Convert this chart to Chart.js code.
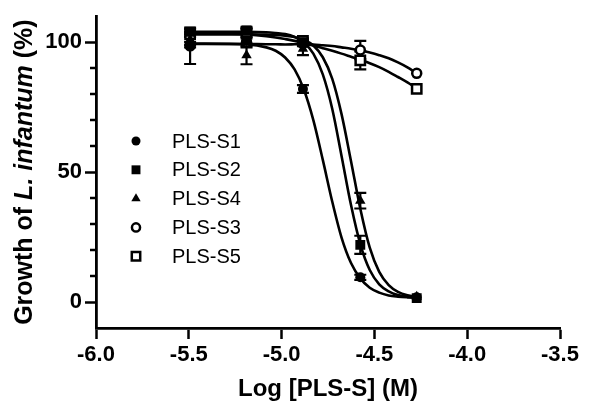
<!DOCTYPE html>
<html><head><meta charset="utf-8">
<script src="https://cdn.jsdelivr.net/npm/chart.js@4.4.1/dist/chart.umd.min.js"></script>
<style>html,body{margin:0;padding:0;background:#fff;}#wrap{width:591px;height:404px;position:relative;}</style>
</head><body><div id="wrap"><canvas id="c" width="591" height="404"></canvas></div>
<script>
const seriesNames = ['PLS-S1', 'PLS-S2', 'PLS-S4', 'PLS-S3', 'PLS-S5'];
const logConc = [-5.493, -5.189, -4.885, -4.576, -4.272];
const valS1 = [99, 100.5, 82, 9.5, 1.8];
const valS2 = [104, 104.5, 100, 22, 1.5];
const valS4 = [101, 95, 97.5, 39, 2];
const valS3 = [98.6, 100, 99.5, 97, 88];
const valS5 = [103, 104, 100.5, 93, 82];
const errS1 = [1, 1, 1.5, 1, 0.5];
const errS2 = [1, 1, 1, 3.5, 0.5];
const errS4 = [2, 3.5, 2.5, 3, 0.5];
const errS3 = [7, 2, 1, 3.5, 0.5];
const errS5 = [1, 1, 1, 3.5, 0.5];

const curveX  = [-5.493, -5.184, -5.082, -5.032, -4.981, -4.930, -4.880, -4.829, -4.778, -4.727, -4.677, -4.626, -4.575, -4.525, -4.474, -4.423, -4.373, -4.322, -4.272];
const curveS1 = [99.5, 99.1, 98.0, 96.7, 94.1, 89.5, 81.8, 70.0, 54.7, 38.6, 24.8, 15.0, 9.0, 5.5, 3.6, 2.5, 2.05, 1.8, 1.65];
const curveS2 = [104, 104, 103.8, 103.5, 103.1, 102.0, 99.9, 95.6, 87.6, 74.3, 56.2, 37.3, 22.0, 12.3, 6.8, 4.1, 2.7, 2.1, 1.8];
const curveS4 = [103, 103, 102.9, 102.8, 102.5, 102.0, 100.9, 98.7, 94.2, 85.9, 72.3, 54.2, 35.6, 20.9, 11.6, 6.5, 3.9, 2.6, 2.0];
const curveS3 = [99.3, 99.3, 99.2, 99.2, 99.1, 99.2, 99.3, 99.1, 98.8, 98.5, 98.0, 97.5, 96.8, 96.0, 95.0, 93.8, 92.2, 90.3, 88.0];
const curveS5 = [103.8, 103.0, 102.3, 101.8, 101.2, 100.5, 99.6, 98.7, 97.7, 96.7, 95.6, 94.4, 93.2, 91.9, 90.4, 88.6, 86.6, 84.5, 82.2];

const xTicks = [-6.0, -5.5, -5.0, -4.5, -4.0, -3.5];
const yTicks = [0, 50, 100];
const yMinorTicks = [10, 20, 30, 40, 60, 70, 80, 90];

const FONT = "'Liberation Sans', Arial, Helvetica, sans-serif";
const pts = (xs, ys) => xs.map((x, i) => ({ x: x, y: ys[i] }));

const markerStyles = [
  { pointStyle: 'circle', pointRadius: 5, backgroundColor: '#000', borderWidth: 0 },
  { pointStyle: 'rect', pointRadius: 7, backgroundColor: '#000', borderWidth: 0 },
  { pointStyle: 'triangle', pointRadius: 6, backgroundColor: '#000', borderWidth: 0 },
  { pointStyle: 'circle', pointRadius: 4.5, backgroundColor: '#fff', borderWidth: 2.5 },
  { pointStyle: 'rect', pointRadius: 6.6, backgroundColor: '#fff', borderWidth: 2.5 }
];
const values = [valS1, valS2, valS4, valS3, valS5];
const errors = [errS1, errS2, errS4, errS3, errS5];
const curves = [curveS1, curveS2, curveS4, curveS3, curveS5];

const datasets = [];
seriesNames.forEach((name, i) => {
  const st = markerStyles[i];
  datasets.push({
    label: name, data: pts(logConc, values[i]), showLine: false,
    pointStyle: st.pointStyle, pointRadius: st.pointRadius, pointHoverRadius: st.pointRadius,
    pointBackgroundColor: st.backgroundColor, pointBorderColor: '#000', pointBorderWidth: st.borderWidth,
    errors: errors[i], isMarker: true
  });
});
seriesNames.forEach((name, i) => {
  datasets.push({
    label: name + ' fit', data: pts(curveX, curves[i]), showLine: true, pointRadius: 0,
    borderColor: '#000', borderWidth: 2.6, cubicInterpolationMode: 'monotone', fill: false, isMarker: false
  });
});

const errorBarPlugin = {
  id: 'errorBars',
  beforeDatasetsDraw(chart) {
    const ctx = chart.ctx, xs = chart.scales.x, ys = chart.scales.y;
    ctx.save();
    ctx.strokeStyle = '#000'; ctx.lineWidth = 2.2;
    chart.data.datasets.forEach(ds => {
      if (!ds.isMarker) return;
      ds.data.forEach((p, j) => {
        const e = ds.errors[j];
        const px = xs.getPixelForValue(p.x);
        const top = ys.getPixelForValue(p.y + e), bot = ys.getPixelForValue(p.y - e);
        if (Math.abs(bot - top) < 3) return;
        ctx.beginPath();
        ctx.moveTo(px, top); ctx.lineTo(px, bot);
        ctx.moveTo(px - 6, top); ctx.lineTo(px + 6, top);
        ctx.moveTo(px - 6, bot); ctx.lineTo(px + 6, bot);
        ctx.stroke();
      });
    });
    ctx.restore();
  }
};

function drawMarker(ctx, st, x, y, scale) {
  ctx.save();
  ctx.fillStyle = st.backgroundColor; ctx.strokeStyle = '#000'; ctx.lineWidth = st.borderWidth;
  const r = st.pointRadius * scale;
  ctx.beginPath();
  if (st.pointStyle === 'circle') {
    ctx.arc(x, y, r, 0, Math.PI * 2);
  } else if (st.pointStyle === 'rect') {
    const s = Math.SQRT1_2 * r;
    ctx.rect(x - s, y - s, 2 * s, 2 * s);
  } else if (st.pointStyle === 'triangle') {
    ctx.moveTo(x, y - r);
    ctx.lineTo(x + Math.sin(2 * Math.PI / 3) * r, y - Math.cos(2 * Math.PI / 3) * r);
    ctx.lineTo(x + Math.sin(4 * Math.PI / 3) * r, y - Math.cos(4 * Math.PI / 3) * r);
    ctx.closePath();
  }
  ctx.fill();
  if (st.borderWidth > 0) ctx.stroke();
  ctx.restore();
}

const decorPlugin = {
  id: 'decor',
  afterDraw(chart) {
    const ctx = chart.ctx, area = chart.chartArea, ys = chart.scales.y;
    ctx.save();
    ctx.strokeStyle = '#000'; ctx.lineWidth = 2.5;
    yMinorTicks.forEach(v => {
      const py = Math.round(ys.getPixelForValue(v));
      ctx.beginPath(); ctx.moveTo(area.left - 6, py); ctx.lineTo(area.left, py); ctx.stroke();
    });
    ctx.font = '20px ' + FONT; ctx.fillStyle = '#000'; ctx.textBaseline = 'middle'; ctx.textAlign = 'left';
    seriesNames.forEach((name, i) => {
      const ly = 141 + i * 28.8;
      drawMarker(ctx, markerStyles[i], 136, ly, 0.9);
      ctx.fillText(name, 172, ly + 1);
    });
    const parts = [
      { t: 'Growth of ', f: 'bold 25px ' + FONT },
      { t: 'L. infantum', f: 'italic bold 25px ' + FONT },
      { t: ' (%)', f: 'bold 25px ' + FONT }
    ];
    let total = 0;
    parts.forEach(p => { ctx.font = p.f; p.w = ctx.measureText(p.t).width; total += p.w; });
    const cy = (area.top + area.bottom) / 2;
    ctx.translate(31.5, cy);
    ctx.rotate(-Math.PI / 2);
    ctx.textBaseline = 'alphabetic';
    let cx = -total / 2;
    parts.forEach(p => { ctx.font = p.f; ctx.fillText(p.t, cx, 0); cx += p.w; });
    ctx.restore();
  }
};

new Chart(document.getElementById('c'), {
  type: 'scatter',
  data: { datasets: datasets },
  options: {
    responsive: false, animation: false, devicePixelRatio: 1,
    layout: { padding: { left: 0, right: 31, top: 12, bottom: 0 } },
    plugins: { legend: { display: false }, tooltip: { enabled: false } },
    scales: {
      x: {
        type: 'linear', min: -6, max: -3.5,
        afterBuildTicks: s => { s.ticks = xTicks.map(v => ({ value: v })); },
        afterFit: s => { s.height = 76; },
        ticks: { callback: v => v.toFixed(1), color: '#000', font: { family: FONT, size: 22, weight: 'bold' }, padding: 3, maxRotation: 0 },
        grid: { drawOnChartArea: false, drawTicks: true, tickLength: 11, tickWidth: 2.5, tickColor: '#000' },
        border: { display: true, color: '#000', width: 2.8 },
        title: { display: true, text: 'Log [PLS-S] (M)', color: '#000', font: { family: FONT, size: 24, weight: 'bold' }, padding: { top: 0, bottom: 0 } }
      },
      y: {
        type: 'linear', min: -10, max: 110,
        afterBuildTicks: s => { s.ticks = yTicks.map(v => ({ value: v })); },
        afterFit: s => { s.width = 96; },
        ticks: { color: '#000', font: { family: FONT, size: 22, weight: 'bold' }, padding: 3 },
        grid: { drawOnChartArea: false, drawTicks: true, tickLength: 11, tickWidth: 2.5, tickColor: '#000' },
        border: { display: true, color: '#000', width: 2.8 }
      }
    }
  },
  plugins: [errorBarPlugin, decorPlugin]
});
</script></body></html>
